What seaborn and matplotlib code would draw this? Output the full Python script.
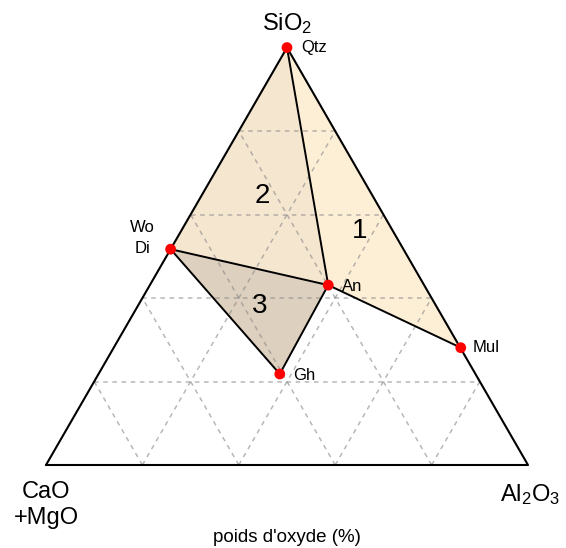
import seaborn as sns
import matplotlib.pyplot as plt
import numpy as np
import pandas as pd

sns.set_style('white')
plt.rcParams['font.family'] = ['Liberation Sans', 'DejaVu Sans']
plt.rcParams['mathtext.default'] = 'regular'
plt.rcParams['text.color'] = 'black'

# mineral compositions, weight % oxide
minerals = ['Qtz', 'Wo\nDi', 'An', 'Mul', 'Gh']
sio2 = [100.0, 51.7, 43.1, 28.1, 21.8]
al2o3 = [0.0, 0.0, 37.0, 72.0, 37.6]
cao = [0.0, 48.3, 19.9, 0.0, 40.6]

# phase fields (indices into minerals)
field_names = ['1', '2', '3']
field_members = [[0, 2, 3], [0, 1, 2], [1, 2, 4]]
field_colors = ['#fdefd6', '#f5e6cf', '#ddd0be']

# tie lines
tie_lines = [(0, 2), (1, 2), (2, 3), (1, 4), (4, 2)]

grid_steps = [20, 40, 60, 80]


def tern(al, si):
    al = np.asarray(al) / 100.0
    si = np.asarray(si) / 100.0
    return al + si / 2.0, si * np.sqrt(3) / 2.0


df = pd.DataFrame({'mineral': minerals, 'SiO2': sio2, 'Al2O3': al2o3, 'CaO': cao})
df['x'], df['y'] = tern(df['Al2O3'], df['SiO2'])

fig = plt.figure(figsize=(5.66, 5.48), dpi=100)
ax = fig.add_axes([0, 0, 1, 1])
ax.set_xlim(-46 / 482, 520 / 482)
ax.set_ylim(-83 / 482, 465 / 482)
ax.set_axis_off()

# phase fields
for members, col in zip(field_members, field_colors):
    ax.fill(df['x'].iloc[members], df['y'].iloc[members], color=col, lw=0, zorder=1)

# dashed grid every 20 %
for g in grid_steps:
    # constant SiO2
    gx, gy = tern([0, 100 - g], [g, g])
    ax.plot(gx, gy, ls=(0, (3, 3)), color='#888888', alpha=0.6, lw=1.1, zorder=2)
    # constant Al2O3
    gx, gy = tern([g, g], [0, 100 - g])
    ax.plot(gx, gy, ls=(0, (3, 3)), color='#888888', alpha=0.6, lw=1.1, zorder=2)
    # constant CaO
    gx, gy = tern([100 - g, 0], [0, 100 - g])
    ax.plot(gx, gy, ls=(0, (3, 3)), color='#888888', alpha=0.6, lw=1.1, zorder=2)

# triangle outline
tx, ty = tern([0, 100, 0, 0], [0, 0, 100, 0])
sns.lineplot(x=tx, y=ty, sort=False, estimator=None, color='black', lw=1.5, ax=ax, zorder=3)

for i, j in tie_lines:
    sns.lineplot(x=df['x'].iloc[[i, j]].values, y=df['y'].iloc[[i, j]].values,
                 sort=False, estimator=None, color='black', lw=1.4, ax=ax, zorder=3)

sns.scatterplot(data=df, x='x', y='y', color='red', s=60, edgecolor='none', ax=ax, zorder=4)

# mineral labels
offsets = {'Qtz': (14, 0, 'left'), 'Wo\nDi': (-28, 11, 'center'), 'An': (14, -1, 'left'),
           'Mul': (12, 0, 'left'), 'Gh': (13, -1, 'left')}
for _, r in df.iterrows():
    dx, dy, ha = offsets[r['mineral']]
    ax.annotate(r['mineral'], (r['x'], r['y']), xytext=(dx, dy), textcoords='offset pixels',
                ha=ha, va='center', fontsize=12, multialignment='center',
                linespacing=1.45, zorder=5)

# field numbers near centroids
num_offsets = [(1, -4), (0, -2), (0, -3)]
for name, members, (dx, dy) in zip(field_names, field_members, num_offsets):
    cx, cy = df['x'].iloc[members].mean(), df['y'].iloc[members].mean()
    ax.annotate(name, (cx, cy), xytext=(dx, dy), textcoords='offset pixels',
                ha='center', va='center', fontsize=20, zorder=5)

# apex labels
ax.annotate('SiO$_2$', tern(0, 100), xytext=(0, 24), textcoords='offset pixels',
            ha='center', va='center', fontsize=17)
ax.annotate('CaO\n+MgO', tern(0, 0), xytext=(0, -40), textcoords='offset pixels',
            ha='center', va='center', fontsize=17)
ax.annotate('Al$_2$O$_3$', tern(100, 0), xytext=(2, -30), textcoords='offset pixels',
            ha='center', va='center', fontsize=17)
ax.text(0.5, -73 / 482, "poids d'oxyde (%)", ha='center', va='center', fontsize=13.5)

plt.savefig('out.png', dpi=100)
